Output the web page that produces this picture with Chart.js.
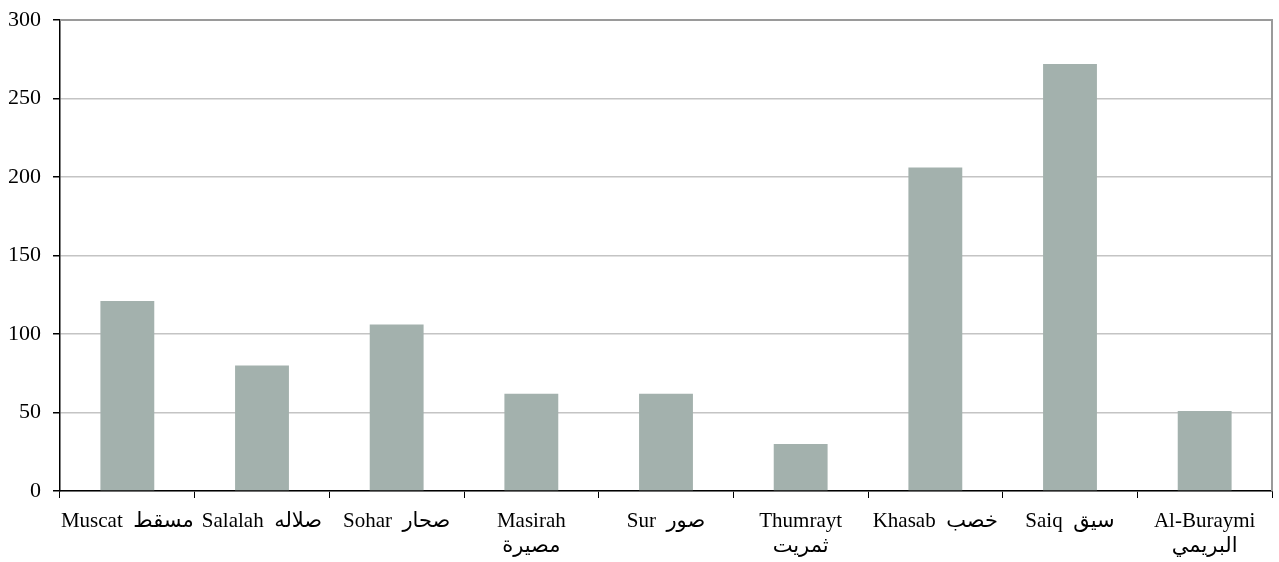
<!DOCTYPE html>
<html>
<head>
<meta charset="utf-8">
<script src="https://cdn.jsdelivr.net/npm/chart.js@4"></script>
<style>
  html, body { margin: 0; padding: 0; background: #fff; }
  #wrap { width: 1279px; height: 562px; position: relative; }
</style>
</head>
<body>
<div id="wrap"><canvas id="myChart"></canvas></div>
<script>
// Chart data
const categories = [
    'Muscat  مسقط',
    'Salalah  صلاله',
    'Sohar  صحار',
    ['Masirah', 'مصيرة'],
    'Sur  صور',
    ['Thumrayt', 'ثمريت'],
    'Khasab  خصب',
    'Saiq  سيق',
    ['Al-Buraymi', 'البريمي']
];
const values = [121, 80, 106, 62, 62, 30, 206, 272, 51];
const yTicks = [0, 50, 100, 150, 200, 250, 300];

const fontFamily = "'Liberation Serif', 'Times New Roman', 'DejaVu Sans', serif";

// Gray frame on top and right of the plot area
const plotFrame = {
    id: 'plotFrame',
    afterDraw(chart) {
        const { ctx, chartArea: a } = chart;
        ctx.save();
        ctx.strokeStyle = '#9a9a9a';
        ctx.lineWidth = 2;
        ctx.beginPath();
        ctx.moveTo(a.left, a.top);
        ctx.lineTo(a.right, a.top);
        ctx.lineTo(a.right, a.bottom);
        ctx.stroke();
        ctx.restore();
    }
};

const ctx = document.getElementById('myChart').getContext('2d');
const myChart = new Chart(ctx, {
    type: 'bar',
    data: {
        labels: categories,
        datasets: [{
            data: values,
            backgroundColor: '#a3b1ad',
            borderWidth: 0,
            barPercentage: 0.4,
            categoryPercentage: 1
        }]
    },
    options: {
        responsive: true,
        maintainAspectRatio: false,
        animation: false,
        layout: { padding: { top: 20, right: 7, left: 0, bottom: 0 } },
        plugins: {
            legend: { display: false },
            tooltip: { enabled: false }
        },
        scales: {
            x: {
                offset: true,
                grid: {
                    offset: true,
                    drawOnChartArea: false,
                    drawTicks: true,
                    tickLength: 7,
                    tickColor: '#000'
                },
                border: { color: '#000', width: 1.5 },
                ticks: {
                    color: '#000',
                    font: { family: fontFamily, size: 21 },
                    padding: 11,
                    maxRotation: 0,
                    minRotation: 0,
                    autoSkip: false
                },
                afterFit(scale) {
                    scale.height = 71;
                    scale.paddingLeft = 0;
                    scale.paddingRight = 0;
                }
            },
            y: {
                min: 0,
                max: 300,
                afterBuildTicks(scale) {
                    scale.ticks = yTicks.map(v => ({ value: v }));
                },
                grid: {
                    color: '#c4c4c4',
                    lineWidth: 1.5,
                    tickLength: 7,
                    tickColor: '#000'
                },
                border: { color: '#000', width: 1.5 },
                ticks: {
                    color: '#000',
                    font: { family: fontFamily, size: 22 },
                    padding: 12
                },
                afterFit(scale) {
                    scale.width = 60;
                    scale.paddingTop = 0;
                    scale.paddingBottom = 0;
                }
            }
        }
    },
    plugins: [plotFrame]
});
</script>
</body>
</html>
